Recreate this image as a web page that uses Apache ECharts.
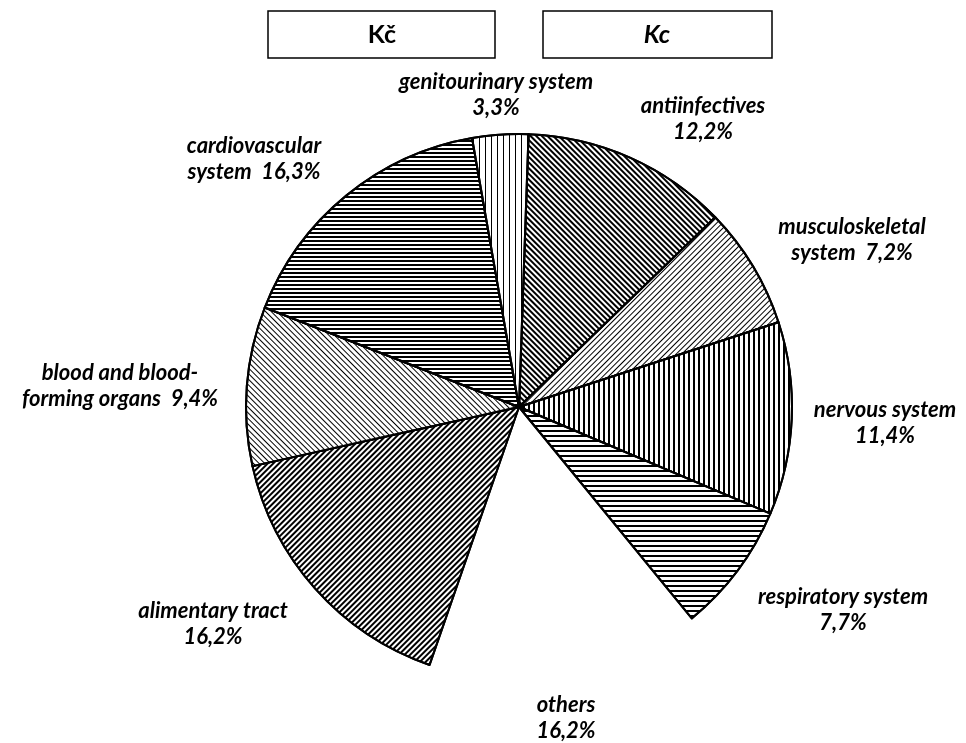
<!DOCTYPE html>
<html>
<head>
<meta charset="utf-8">
<script src="https://cdn.jsdelivr.net/npm/echarts@6/dist/echarts.min.js"></script>
<style>
html, body { margin: 0; padding: 0; background: #fff; }
#chart { width: 966px; height: 743px; }
</style>
</head>
<body>
<div id="chart"></div>
<script>
// slices clockwise from 12 o'clock, "others" is left blank in the original
const categories = ['antiinfectives', 'musculoskeletal\nsystem', 'nervous system', 'respiratory system', 'others',
    'alimentary tract', 'blood and blood-\nforming organs', 'cardiovascular\nsystem', 'genitourinary system'];
const shares = [12.2, 7.2, 11.4, 7.7, 16.2, 16.2, 9.4, 16.3, 3.3];
const headers = ['Kč', 'Kc'];

// label anchor (centre of text block), px
const labelPos = [[703, 119], [852, 240], [885, 423], [843, 610], [566, 718], [213, 624], [120, 386], [254, 159], [496, 95]];

// hatching: [rotation, line width, gap]
const hatch = [
    [Math.PI / 4, 2, 2],
    [-Math.PI / 4, 1, 3],
    [Math.PI / 2, 2, 3],
    [0, 2, 3],
    null,
    [-Math.PI / 4, 2, 2],
    [Math.PI / 4, 1, 3],
    [0, 2, 2],
    [Math.PI / 2, 1, 5]
];

const font = 'Lato, "DejaVu Sans", sans-serif';

function pct(v) {
    return v.toFixed(1).replace('.', ',') + '%';
}

const data = categories.map(function (name, i) {
    const h = hatch[i];
    const item = { name: name, value: shares[i] };
    if (h) {
        item.itemStyle = {
            color: '#fff',
            borderColor: '#000',
            borderWidth: 2,
            decal: {
                symbol: 'rect',
                symbolSize: 1,
                dashArrayX: [1, 0],
                dashArrayY: [h[1], h[2]],
                rotation: h[0],
                color: '#000'
            }
        };
    } else {
        item.itemStyle = { color: 'rgba(0,0,0,0)', borderWidth: 0 };
    }
    return item;
});

const chart = echarts.init(document.getElementById('chart'));
chart.setOption({
    animation: false,
    backgroundColor: '#fff',
    graphic: [
        { type: 'rect', shape: { x: 268, y: 11, width: 227, height: 47 }, style: { fill: '#fff', stroke: '#000', lineWidth: 1.5 } },
        { type: 'text', x: 382, y: 35, style: { text: headers[0], font: 'bold 25px ' + font, fill: '#000', align: 'center', verticalAlign: 'middle' } },
        { type: 'rect', shape: { x: 543, y: 11, width: 229, height: 47 }, style: { fill: '#fff', stroke: '#000', lineWidth: 1.5 } },
        { type: 'text', x: 657, y: 35, style: { text: headers[1], font: 'italic bold 25px ' + font, fill: '#000', align: 'center', verticalAlign: 'middle' } }
    ],
    series: [
        {
            type: 'pie',
            center: [519, 407],
            radius: 273,
            startAngle: 88,
            clockwise: true,
            silent: true,
            data: data,
            label: {
                show: true,
                position: 'outside',
                color: '#000',
                fontFamily: font,
                fontStyle: 'italic',
                fontWeight: 'bold',
                fontSize: 22,
                lineHeight: 26,
                overflow: 'none',
                formatter: function (p) {
                    const sep = p.name.indexOf('\n') >= 0 ? '  ' : '\n';
                    return p.name + sep + pct(p.value);
                }
            },
            labelLine: { show: false },
            labelLayout: function (params) {
                const p = labelPos[params.dataIndex];
                return { x: p[0], y: p[1], align: 'center', verticalAlign: 'middle' };
            }
        }
    ]
});
</script>
</body>
</html>
